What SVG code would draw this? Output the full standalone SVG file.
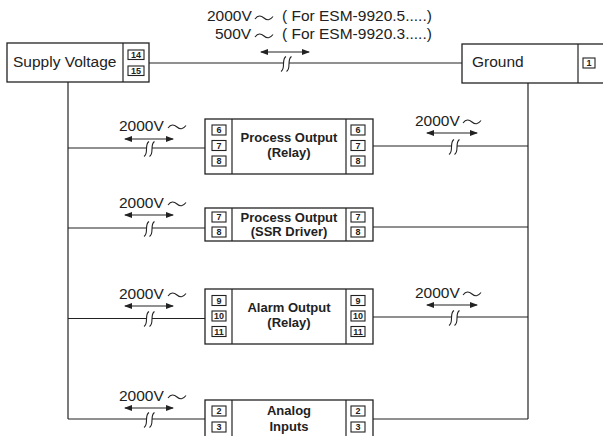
<svg xmlns="http://www.w3.org/2000/svg" width="603" height="436" viewBox="0 0 603 436">
<style>
.box{fill:#fff;stroke:#222;stroke-width:1.3}
.term{fill:#fff;stroke:#222;stroke-width:1.1}
.ln{fill:none;stroke:#222;stroke-width:1.2}
.brk{fill:none;stroke:#222;stroke-width:1.1}
.gap{fill:#fff;stroke:none}
.t{font-family:"Liberation Sans",Arial,sans-serif;font-size:15.5px;fill:#222}
.b{font-family:"Liberation Sans",Arial,sans-serif;font-size:13px;font-weight:bold;fill:#222;text-anchor:middle}
.n{font-family:"Liberation Sans",Arial,sans-serif;font-size:9px;font-weight:bold;fill:#222;text-anchor:middle}
.arr{fill:none;stroke:#222;stroke-width:1.2;marker-start:url(#ah);marker-end:url(#ah)}
</style>
<defs>
<marker id="ah" viewBox="0 0 8 6" refX="7" refY="3" markerWidth="8" markerHeight="6" markerUnits="userSpaceOnUse" orient="auto-start-reverse">
<path d="M0,0 L8,3 L0,6 Z" fill="#222"/>
</marker>
<path id="tl" d="M0,2 C3,-2 6,-1.5 9,1 C12,3.5 15,3.5 18,-0.5" fill="none" stroke="#222" stroke-width="1.1"/>
<g id="bk">
<rect class="gap" x="-3" y="-3" width="5" height="6"/>
<path class="brk" d="M-1,-7.5 C-3.5,-6 -3.5,-2 -3.5,0 C-3.5,2 -3.5,6 -6,7.5"/>
<path class="brk" d="M4.5,-7.5 C2,-6 2,-2 2,0 C2,2 2,6 -0.5,7.5"/>
</g>
</defs>

<g id="connectors">
<line class="ln" x1="149" y1="63" x2="462" y2="63"/>
<use href="#bk" x="287" y="64"/>
<line class="ln" x1="68" y1="82" x2="68" y2="419"/>
<line class="ln" x1="528" y1="83" x2="528" y2="419"/>
<line class="ln" x1="68" y1="148" x2="205" y2="148"/>
<use href="#bk" x="150" y="149"/>
<line class="ln" x1="373" y1="146" x2="528" y2="146"/>
<use href="#bk" x="455" y="147"/>
<line class="ln" x1="68" y1="228" x2="205" y2="228"/>
<use href="#bk" x="150" y="229"/>
<line class="ln" x1="373" y1="227" x2="528" y2="227"/>
<line class="ln" x1="68" y1="318.5" x2="205" y2="318.5"/>
<use href="#bk" x="150" y="319"/>
<line class="ln" x1="373" y1="317" x2="528" y2="317"/>
<use href="#bk" x="455" y="318"/>
<line class="ln" x1="68" y1="419" x2="205" y2="419"/>
<use href="#bk" x="150" y="420"/>
<line class="ln" x1="373" y1="419" x2="528" y2="419"/>
<line class="arr" x1="261" y1="52" x2="309" y2="52"/>
<line class="arr" x1="125" y1="139" x2="173" y2="139"/>
<line class="arr" x1="427" y1="133" x2="477" y2="133"/>
<line class="arr" x1="125" y1="215" x2="173" y2="215"/>
<line class="arr" x1="125" y1="306" x2="173" y2="306"/>
<line class="arr" x1="427" y1="305" x2="477" y2="305"/>
<line class="arr" x1="125" y1="408" x2="173" y2="408"/>
</g>

<g id="labels">
<text class="t" x="207" y="21">2000V</text>
<use href="#tl" x="255" y="17"/>
<text class="t" x="282" y="21">( For ESM-9920.5.....)</text>
<text class="t" x="215" y="39">500V</text>
<use href="#tl" x="255" y="35"/>
<text class="t" x="282" y="39">( For ESM-9920.3.....)</text>
<text class="t" x="119" y="131">2000V</text>
<use href="#tl" x="168" y="126"/>
<text class="t" x="415" y="126">2000V</text>
<use href="#tl" x="463" y="121"/>
<text class="t" x="119" y="208">2000V</text>
<use href="#tl" x="168" y="203"/>
<text class="t" x="119" y="299">2000V</text>
<use href="#tl" x="168" y="294"/>
<text class="t" x="415" y="298">2000V</text>
<use href="#tl" x="463" y="293"/>
<text class="t" x="119" y="401">2000V</text>
<use href="#tl" x="168" y="396"/>
</g>

<g id="supply">
<rect class="box" x="7" y="43" width="142" height="39"/>
<line class="ln" x1="123" y1="43" x2="123" y2="82"/>
<text class="t" x="13" y="67">Supply Voltage</text>
<rect class="term" x="128" y="50" width="16" height="9.5"/>
<text class="n" x="136" y="58.2">14</text>
<rect class="term" x="128" y="66" width="16" height="9.5"/>
<text class="n" x="136" y="74.2">15</text>
</g>

<g id="ground">
<rect class="box" x="462" y="44" width="150" height="39"/>
<line class="ln" x1="578" y1="44" x2="578" y2="83"/>
<text class="t" x="472" y="67">Ground</text>
<rect class="term" x="583" y="58" width="12" height="10"/>
<text class="n" x="589" y="66.2">1</text>
</g>

<g id="process-relay">
<rect class="box" x="205" y="119" width="168" height="55"/>
<line class="ln" x1="232" y1="119" x2="232" y2="174"/>
<line class="ln" x1="346" y1="119" x2="346" y2="174"/>
<text class="b" x="289" y="142">Process Output</text>
<text class="b" x="289" y="157">(Relay)</text>
<rect class="term" x="212" y="125" width="14" height="10"/><text class="n" x="219" y="133.2">6</text>
<rect class="term" x="212" y="140.5" width="14" height="10"/><text class="n" x="219" y="148.7">7</text>
<rect class="term" x="212" y="156" width="14" height="10"/><text class="n" x="219" y="164.2">8</text>
<rect class="term" x="351" y="125" width="14" height="10"/><text class="n" x="358" y="133.2">6</text>
<rect class="term" x="351" y="140.5" width="14" height="10"/><text class="n" x="358" y="148.7">7</text>
<rect class="term" x="351" y="156" width="14" height="10"/><text class="n" x="358" y="164.2">8</text>
</g>

<g id="process-ssr">
<rect class="box" x="205" y="208" width="168" height="33"/>
<line class="ln" x1="232" y1="208" x2="232" y2="241"/>
<line class="ln" x1="346" y1="208" x2="346" y2="241"/>
<text class="b" x="289" y="222">Process Output</text>
<text class="b" x="289" y="236">(SSR Driver)</text>
<rect class="term" x="212" y="212" width="14" height="10"/><text class="n" x="219" y="220.2">7</text>
<rect class="term" x="212" y="227" width="14" height="10"/><text class="n" x="219" y="235.2">8</text>
<rect class="term" x="351" y="212" width="14" height="10"/><text class="n" x="358" y="220.2">7</text>
<rect class="term" x="351" y="227" width="14" height="10"/><text class="n" x="358" y="235.2">8</text>
</g>

<g id="alarm-relay">
<rect class="box" x="205" y="289" width="168" height="55"/>
<line class="ln" x1="232" y1="289" x2="232" y2="344"/>
<line class="ln" x1="346" y1="289" x2="346" y2="344"/>
<text class="b" x="289" y="312">Alarm Output</text>
<text class="b" x="289" y="327">(Relay)</text>
<rect class="term" x="212" y="295.5" width="14" height="10"/><text class="n" x="219" y="303.7">9</text>
<rect class="term" x="212" y="311" width="14" height="10"/><text class="n" x="219" y="319.2">10</text>
<rect class="term" x="212" y="326.5" width="14" height="10"/><text class="n" x="219" y="334.7">11</text>
<rect class="term" x="351" y="295.5" width="14" height="10"/><text class="n" x="358" y="303.7">9</text>
<rect class="term" x="351" y="311" width="14" height="10"/><text class="n" x="358" y="319.2">10</text>
<rect class="term" x="351" y="326.5" width="14" height="10"/><text class="n" x="358" y="334.7">11</text>
</g>

<g id="analog-inputs">
<rect class="box" x="205" y="400" width="168" height="45"/>
<line class="ln" x1="232" y1="400" x2="232" y2="445"/>
<line class="ln" x1="346" y1="400" x2="346" y2="445"/>
<text class="b" x="289" y="415">Analog</text>
<text class="b" x="289" y="431">Inputs</text>
<rect class="term" x="212" y="406" width="14" height="10"/><text class="n" x="219" y="414.2">2</text>
<rect class="term" x="212" y="422" width="14" height="10"/><text class="n" x="219" y="430.2">3</text>
<rect class="term" x="351" y="406" width="14" height="10"/><text class="n" x="358" y="414.2">2</text>
<rect class="term" x="351" y="422" width="14" height="10"/><text class="n" x="358" y="430.2">3</text>
</g>
</svg>
